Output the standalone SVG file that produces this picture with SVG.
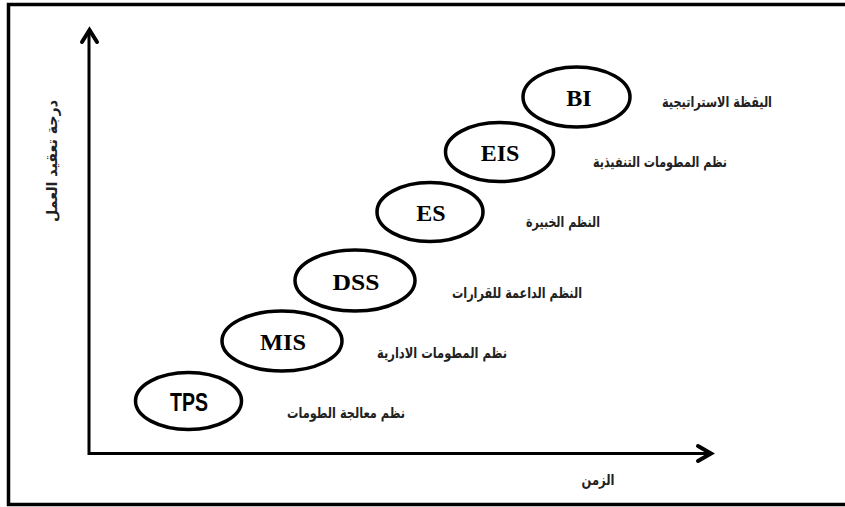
<svg xmlns="http://www.w3.org/2000/svg" width="845" height="507" viewBox="0 0 845 507">
<style>
.node ellipse{fill:#fff;stroke:#000;stroke-width:3.5}
.lat{font-family:"Liberation Serif","Times New Roman",serif;font-weight:bold;font-size:24px;fill:#000;text-anchor:middle}
.sans{font-family:"Liberation Sans",Arial,sans-serif;font-weight:bold;font-size:25px;fill:#000;text-anchor:middle}
.ar{font-family:"DejaVu Sans","Noto Sans",sans-serif;font-weight:bold;font-size:15px;fill:#222;text-anchor:middle}
.axis{fill:none;stroke:#000;stroke-width:3}
.head{fill:none;stroke:#000;stroke-width:4;stroke-linecap:round;stroke-linejoin:miter}
</style>
<rect width="845" height="507" fill="#fff"/>
<path d="M845 4.5H8.5V504.5H845" fill="none" stroke="#000" stroke-width="3.5"/>
<g id="connectors">
<path class="axis" d="M89 30V453.5H711"/>
<path class="head" d="M82 42L89.5 30L97 42"/>
<path class="head" d="M698 446L711 453.5L698 461"/>
</g>
<g id="axis-labels">
<text class="ar" x="598" y="485" textLength="33" lengthAdjust="spacingAndGlyphs">الزمن</text>
<text class="ar" transform="translate(57 161) rotate(-90)" x="0" y="0" textLength="122" lengthAdjust="spacingAndGlyphs">درجة تعقيد العمل</text>
</g>
<g id="node-tps" class="node">
<ellipse cx="188.5" cy="401" rx="53" ry="28.5"/>
<text class="sans" x="189" y="411" textLength="38" lengthAdjust="spacingAndGlyphs">TPS</text>
<text class="ar" x="346" y="418" textLength="118" lengthAdjust="spacingAndGlyphs">نظم معالجة الطومات</text>
</g>
<g id="node-mis" class="node">
<ellipse cx="282" cy="341" rx="60" ry="30"/>
<text class="lat" x="283" y="350" textLength="46" lengthAdjust="spacingAndGlyphs">MIS</text>
<text class="ar" x="442" y="358" textLength="130" lengthAdjust="spacingAndGlyphs">نظم المطومات الادارية</text>
</g>
<g id="node-dss" class="node">
<ellipse cx="355" cy="280.5" rx="60" ry="30.5"/>
<text class="lat" x="356" y="290" textLength="47" lengthAdjust="spacingAndGlyphs">DSS</text>
<text class="ar" x="517" y="298" textLength="130" lengthAdjust="spacingAndGlyphs">النظم الداعمة للقرارات</text>
</g>
<g id="node-es" class="node">
<ellipse cx="430" cy="212" rx="53" ry="29.5"/>
<text class="lat" x="431" y="221">ES</text>
<text class="ar" x="563" y="227" textLength="74" lengthAdjust="spacingAndGlyphs">النظم الخبيرة</text>
</g>
<g id="node-eis" class="node">
<ellipse cx="499.5" cy="152" rx="54" ry="29.5"/>
<text class="lat" x="500" y="161">EIS</text>
<text class="ar" x="660" y="167" textLength="134" lengthAdjust="spacingAndGlyphs">نظم المطومات التنفيذية</text>
</g>
<g id="node-bi" class="node">
<ellipse cx="576.5" cy="97" rx="53.5" ry="30"/>
<text class="lat" x="579" y="106">BI</text>
<text class="ar" x="717" y="107" textLength="110" lengthAdjust="spacingAndGlyphs">اليقظة الاستراتيجية</text>
</g>
</svg>
